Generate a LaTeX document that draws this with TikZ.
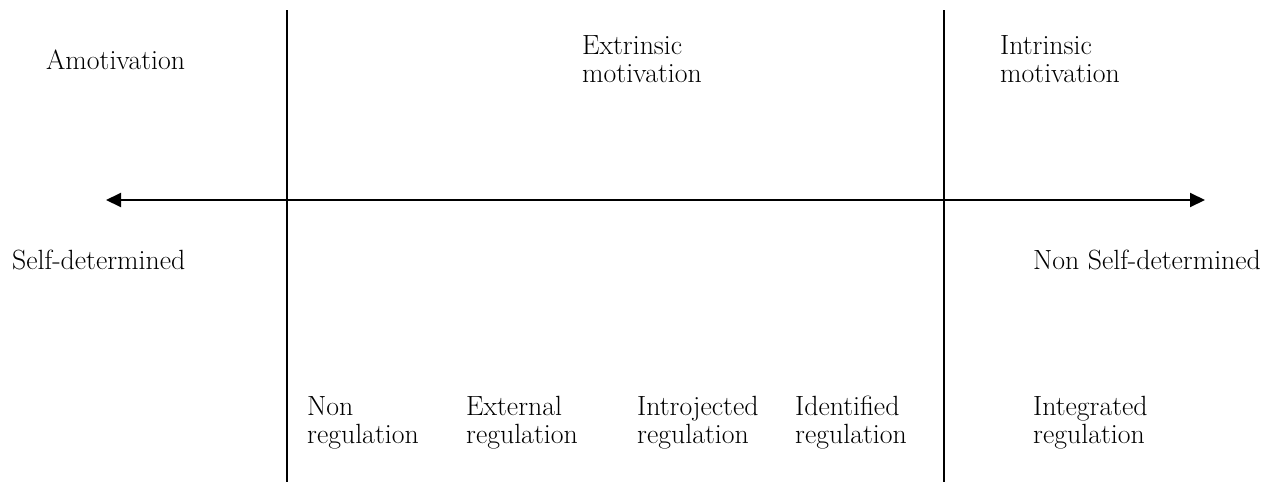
\documentclass[tikz,border=0pt]{standalone}
\usetikzlibrary{arrows.meta}
\begin{document}
\begin{tikzpicture}[x=1pt,y=-1pt,
  label/.style={anchor=base west,inner sep=0pt,align=left,
    font=\fontsize{27.8}{28}\selectfont},
  rule/.style={line width=2pt},
  axis/.style={line width=2pt,{Triangle[length=15pt,width=14pt]}-{Triangle[length=15pt,width=14pt]}}]
\useasboundingbox (0,0) rectangle (1283,482);

% dividing rules and the continuum axis
\coordinate (d1top) at (287,10);
\coordinate (d1bot) at (287,482);
\coordinate (d2top) at (944,10);
\coordinate (d2bot) at (944,482);
\coordinate (axL) at (106,200);
\coordinate (axR) at (1205,200);
\draw[rule] (d1top) -- (d1bot);
\draw[rule] (d2top) -- (d2bot);
\draw[axis] (axL) -- (axR);

% motivation types (two-line labels are placed by their last baseline)
\node[label] (amot) at (46,69) {Amotivation};
\node[label] (extr) at (582,82) {Extrinsic\\motivation};
\node[label] (intr) at (1000,82) {Intrinsic\\motivation};

% ends of the axis
\node[label] (selfd) at (12,269) {Self-determined};
\node[label] (nonsd) at (1033,269) {Non Self-determined};

% regulatory styles
\node[label] (r1) at (307,443) {Non\\regulation};
\node[label] (r2) at (466,443) {External\\regulation};
\node[label] (r3) at (637,443) {Introjected\\regulation};
\node[label] (r4) at (795,443) {Identified\\regulation};
\node[label] (r5) at (1033,443) {Integrated\\regulation};
\end{tikzpicture}
\end{document}
